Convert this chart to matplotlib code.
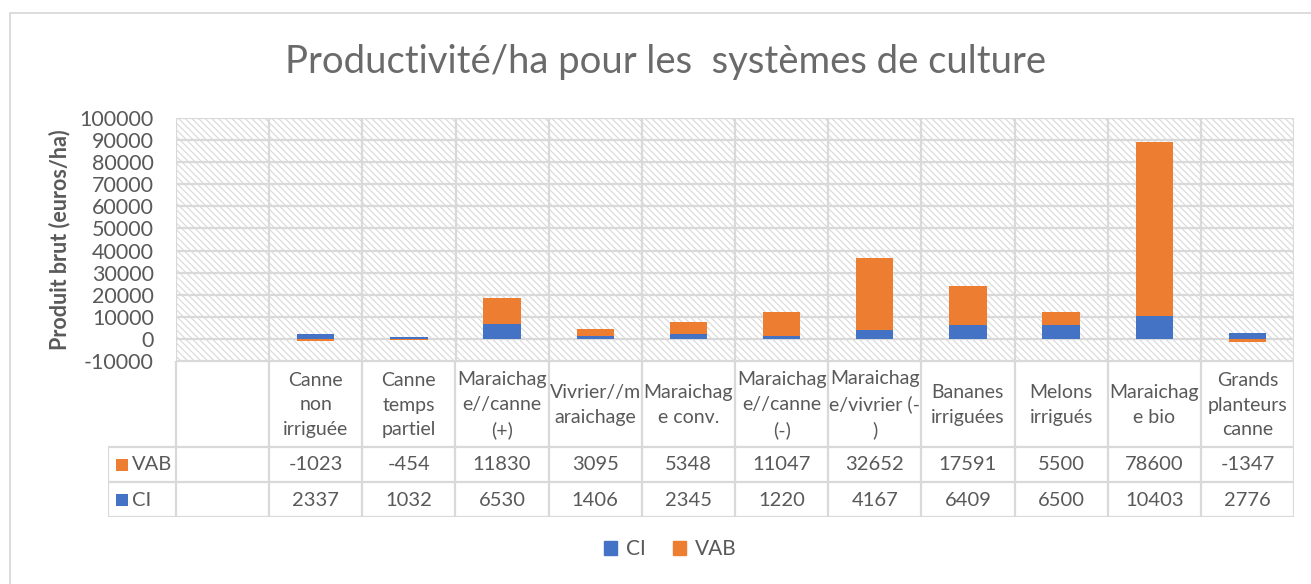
import numpy as np
import matplotlib.pyplot as plt
from matplotlib.patches import Rectangle, Patch

plt.rcParams["font.family"] = ["Lato", "DejaVu Sans"]
plt.rcParams["hatch.color"] = "#dcdcdc"
plt.rcParams["hatch.linewidth"] = 0.9

TEXT = "#595959"
GRID = "#d9d9d9"
BLUE = "#4472c4"
ORANGE = "#ed7d31"

categories = [
    "",
    "Canne\nnon\nirriguée",
    "Canne\ntemps\npartiel",
    "Maraichag\ne//canne\n(+)",
    "Vivrier//m\naraichage",
    "Maraichag\ne conv.",
    "Maraichag\ne//canne\n(-)",
    "Maraichag\ne/vivrier (-\n)",
    "Bananes\nirriguées",
    "Melons\nirrigués",
    "Maraichag\ne bio",
    "Grands\nplanteurs\ncanne",
]
ci = [np.nan, 2337, 1032, 6530, 1406, 2345, 1220, 4167, 6409, 6500, 10403, 2776]
vab = [np.nan, -1023, -454, 11830, 3095, 5348, 11047, 32652, 17591, 5500, 78600, -1347]
y_ticks = list(range(-10000, 100001, 10000))

W, H = 1311, 584
fig = plt.figure(figsize=(W / 100, H / 100), dpi=100)


def fx(px):
    return px / W


def fy(py):
    return 1 - py / H


# outer chart border (only left/top edges fall inside the image)
fig.patches.append(Rectangle((fx(10), -0.2), 1.2, fy(13) + 0.2, transform=fig.transFigure,
                             fill=False, edgecolor=GRID, lw=1.3))

fig.text(fx(666), fy(62), "Productivité/ha pour les  systèmes de culture", ha="center", va="center",
         fontsize=27.5, color="#6a6a6a")

# ---- bar chart ----
ax = fig.add_axes([fx(176), fy(361), fx(1294) - fx(176), fy(118) - fy(361)])
ax.set_xlim(-0.5, len(categories) - 0.5)
ax.set_ylim(y_ticks[0], y_ticks[-1])
ax.add_patch(Rectangle((0, 0), 1, 1, transform=ax.transAxes, facecolor="white",
                       edgecolor="#dcdcdc", lw=0, hatch="\\\\\\\\\\", zorder=0))
for t in y_ticks:
    ax.axhline(t, color=GRID, lw=1.6, zorder=1)
for k in range(len(categories) + 1):
    ax.axvline(k - 0.5, color=GRID, lw=1.6, zorder=1)

x = np.arange(len(categories))
ci_arr = np.array(ci, dtype=float)
vab_arr = np.array(vab, dtype=float)
vab_bottom = np.where(vab_arr >= 0, ci_arr, 0)
ax.bar(x, ci_arr, width=0.4, color=BLUE, zorder=3)
ax.bar(x, vab_arr, width=0.4, bottom=vab_bottom, color=ORANGE, zorder=3)

ax.set_xticks([])
ax.set_yticks(y_ticks)
ax.set_yticklabels([str(t) for t in y_ticks])
ax.tick_params(axis="y", length=0, pad=16, labelsize=15.5, labelcolor=TEXT)
for s in ax.spines.values():
    s.set_visible(False)

fig.text(fx(60), fy(240), "Produit brut (euros/ha)", rotation=90, ha="center", va="center",
         fontsize=15.5, fontweight="bold", color=TEXT)

# ---- data table under the chart ----
col_w = (1294 - 176) / len(categories)
x_left = -0.5 - (176 - 108) / col_w
tab = fig.add_axes([fx(108), fy(517), fx(1294) - fx(108), fy(361) - fy(517)])
tab.set_xlim(x_left, len(categories) - 0.5)
tab.set_ylim(0, 156)
tab.axis("off")
tab.plot([-0.5, len(categories) - 0.5], [156, 156], color=GRID, lw=1.6)
for yy in (70, 35, 0):
    tab.plot([x_left, len(categories) - 0.5], [yy, yy], color=GRID, lw=1.6)
tab.plot([x_left, x_left], [0, 70], color=GRID, lw=1.6)
for k in range(len(categories) + 1):
    tab.plot([k - 0.5, k - 0.5], [0, 156], color=GRID, lw=1.6)

for i, name in enumerate(categories):
    tab.text(i, 112, name, ha="center", va="center", fontsize=14, color=TEXT, linespacing=1.55)
    if not np.isnan(vab_arr[i]):
        tab.text(i, 52, f"{int(vab_arr[i])}", ha="center", va="center", fontsize=14.5, color=TEXT)
        tab.text(i, 17, f"{int(ci_arr[i])}", ha="center", va="center", fontsize=14.5, color=TEXT)

key_x = -0.5 - (176 - 122) / col_w
lab_x = -0.5 - (176 - 132) / col_w
for yy, lab, col in ((52, "VAB", ORANGE), (17, "CI", BLUE)):
    tab.plot(key_x, yy, marker="s", ms=8.5, color=col, mew=0)
    tab.text(lab_x, yy, lab, ha="left", va="center", fontsize=14.5, color=TEXT)

fig.legend(handles=[Patch(color=BLUE, label="CI"), Patch(color=ORANGE, label="VAB")],
           loc="center", bbox_to_anchor=(fx(670), fy(549)), ncol=2, frameon=False,
           fontsize=15, handlelength=0.65, handleheight=0.65, handletextpad=0.4,
           columnspacing=1.3, labelcolor=TEXT)

fig.savefig("out.png", dpi=100)
